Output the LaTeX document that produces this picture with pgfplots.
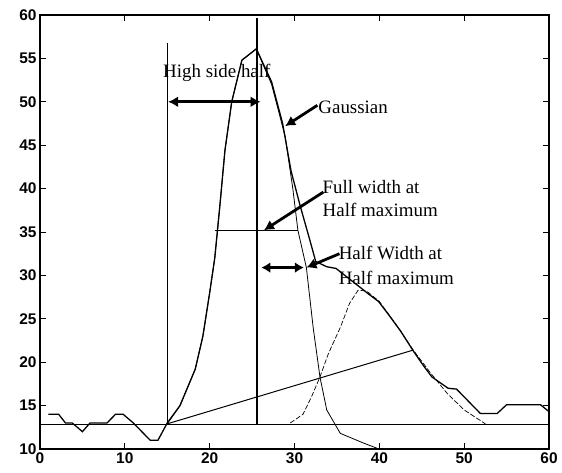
\documentclass[border=0pt]{standalone}
\usepackage{fontspec}
\setmainfont{Liberation Serif}
\newfontfamily\arial{Liberation Sans}
\usepackage{pgfplots}
\pgfplotsset{compat=1.18}
\usetikzlibrary{arrows.meta}

\begin{document}
\begin{tikzpicture}
\begin{axis}[
  scale only axis, width=509bp, height=434bp,
  xmin=0, xmax=60, ymin=10, ymax=60,
  xtick={0,10,...,60}, ytick={10,15,...,60},
  tick align=inside, major tick length=6bp,
  tick style={black, line width=0.9pt},
  axis line style={line width=1.2pt},
  /pgf/number format/assume math mode=true,
  ticklabel style={font=\arial\bfseries\fontsize{15.5}{15.5}\selectfont},
  clip=false]

% measured signal
\addplot[black, line width=1.3pt] coordinates {
  (1,14) (2.2,14) (3,13) (3.8,13) (5,12) (5.9,13) (7.9,13) (8.9,14) (9.8,14)
  (11,13) (13,11) (13.9,11) (15,13) (16.5,15) (18.3,19.2) (19.2,23) (20,28)
  (20.6,32) (21.2,38) (21.8,44.4) (22.6,50) (23.8,54.8) (25.5,56.1) (27.3,52.3)
  (28.6,47.5) (29.6,42) (30.7,37.9) (31.8,34.1) (32.5,31.6) (33.8,31) (34.9,30.8)
  (36.2,29.8) (37.9,28.5) (38.8,27.8) (39.9,27.0) (41,25.6) (42.5,23.6) (44,21.3)
  (45.2,19.6) (46.2,18.3) (48.1,17) (49.1,16.9) (50.5,15.5) (51.9,14.1) (53.9,14.1)
  (55,15.1) (59,15.1) (60,14.3)};

% first Gaussian
\addplot[black, line width=0.8pt] coordinates {
  (15,12.9) (16.5,15) (18.3,19.2) (19.2,23) (20,28) (20.6,32) (21.2,38) (21.8,44.4)
  (22.6,50) (23.8,54.8) (25.5,56.1) (27.3,52) (28.9,46) (29.8,40) (30.4,35.2)
  (31.4,30.9) (32.2,24) (33,18.3) (33.8,14.5) (35.4,11.8) (38.1,10.7) (39.7,10.1)};

% second Gaussian
\addplot[black, line width=0.7pt, dash pattern=on 5bp off 2bp] coordinates {
  (29.5,13) (31,14) (32,16) (33,18.3) (34,21) (35.4,24) (36.5,26.8) (37.5,28.3)
  (38.5,28.2) (40,27) (42,24.3) (44,21.4) (46,18.8) (48,16.4) (50,14.5) (52.5,12.9)};

% baseline and construction lines
\addplot[black, line width=1.4pt] coordinates {(0,12.8) (60,12.8)};
\addplot[black, line width=1pt] coordinates {(15,12.9) (44,21.4)};
\addplot[black, line width=1.4pt] coordinates {(15,12.8) (15,56.8)};
\addplot[black, line width=2.1pt] coordinates {(25.6,12.8) (25.6,59.7)};
\addplot[black, line width=1pt] coordinates {(20.6,35.2) (30.4,35.2)};

% annotations
\tikzset{ar/.style={line width=2.8pt, arrows={-Latex[length=10bp,width=11bp]}}}
\draw[line width=2.8pt, arrows={Latex[length=10bp,width=11bp]-Latex[length=10bp,width=11bp]}]
  (axis cs:15.1,50) -- (axis cs:26,50);
\draw[line width=2.8pt, arrows={Latex[length=9bp,width=11bp]-Latex[length=9bp,width=11bp]}]
  (axis cs:26.1,30.9) -- (axis cs:31.1,30.9);
\draw[ar] (axis cs:32.7,49.6) -- (axis cs:28.9,47.2);
\draw[ar] (axis cs:33.4,39.6) -- (axis cs:26.4,35.2);
\draw[ar] (axis cs:35.3,32.5) -- (axis cs:31.4,30.9);

\node[anchor=west, inner sep=0pt, font=\fontsize{19}{22}\selectfont] at (axis cs:14.5,53.3) {High side half};
\node[anchor=west, inner sep=0pt, font=\fontsize{19}{22}\selectfont] at (axis cs:32.8,49.4) {Gaussian};
\node[anchor=west, inner sep=0pt, align=left, font=\fontsize{19}{23}\selectfont] at (axis cs:33.3,38.9) {Full width at\\Half maximum};
\node[anchor=west, inner sep=0pt, align=left, font=\fontsize{19}{25}\selectfont] at (axis cs:35.2,31.1) {Half Width at\\Half maximum};
\end{axis}
\pgfresetboundingbox
\useasboundingbox ([shift={(-40bp,-23bp)}]current axis.south west) rectangle ([shift={(13bp,15bp)}]current axis.north east);
\end{tikzpicture}
\end{document}
